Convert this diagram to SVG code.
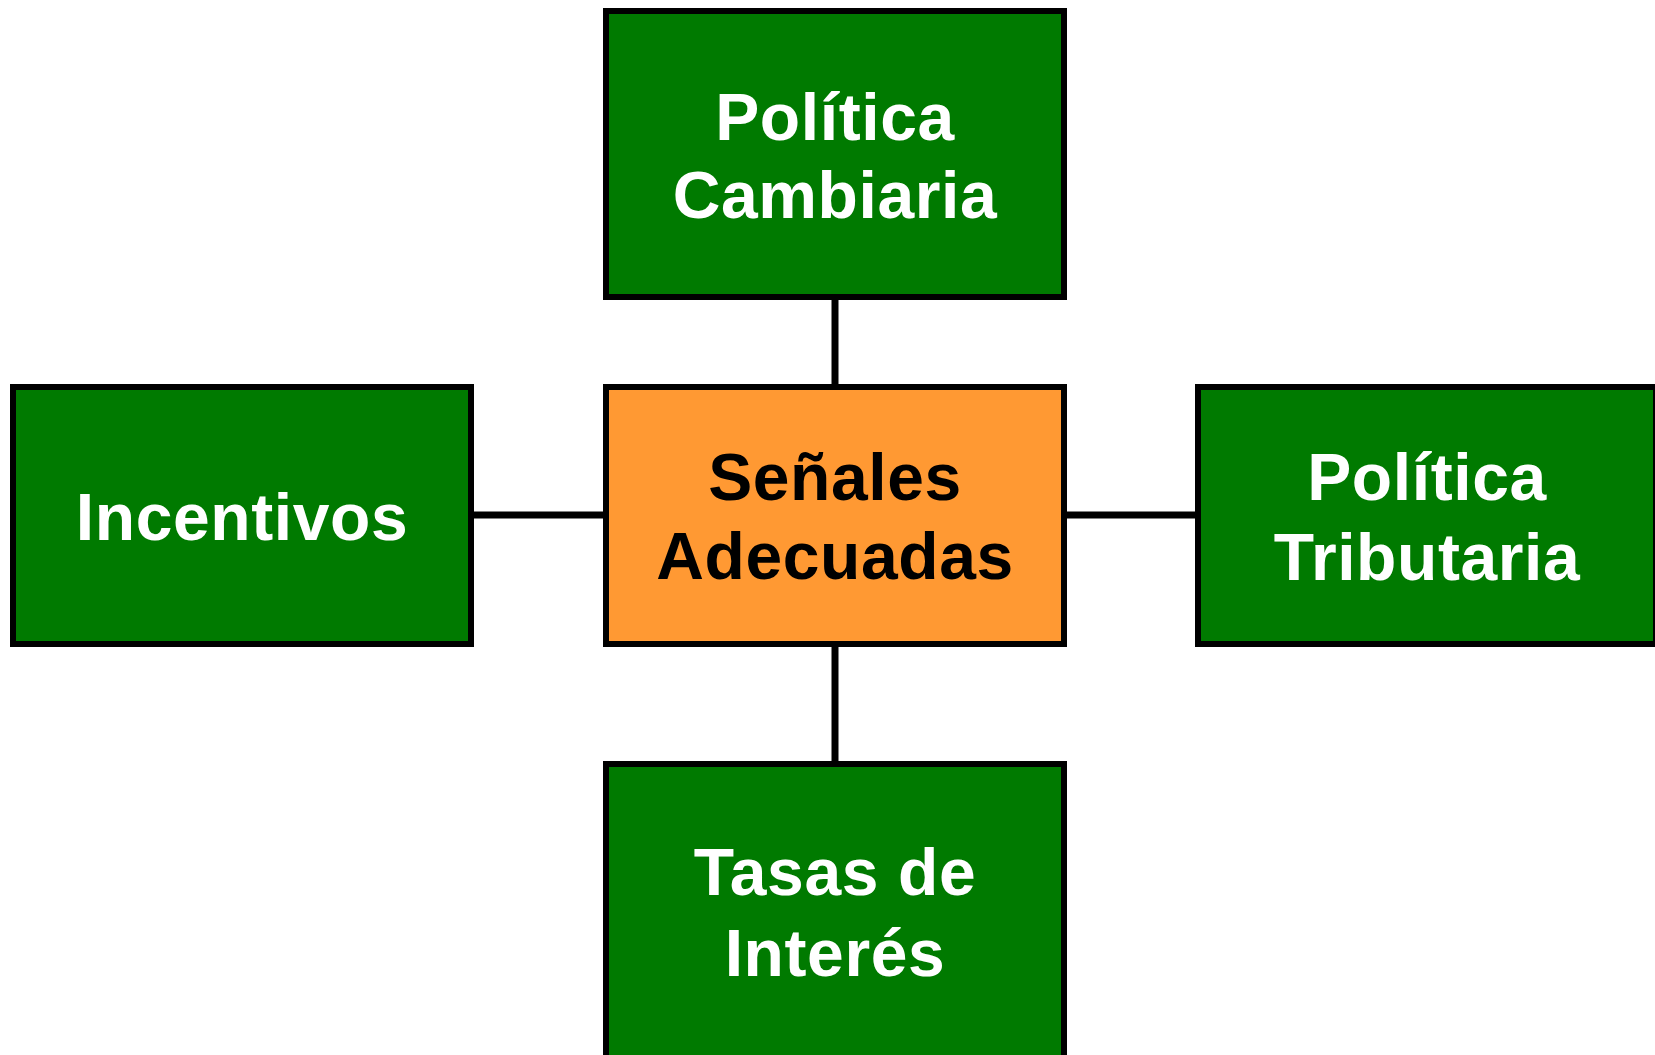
<svg xmlns="http://www.w3.org/2000/svg" width="1655" height="1055" viewBox="0 0 1655 1055">
<style>
.box{stroke:#000;stroke-width:6}
.green{fill:#007A00}
.orange{fill:#FF9933}
.lbl{font-family:"Liberation Sans",Arial,sans-serif;font-weight:bold;font-size:66px;letter-spacing:0.6px;text-anchor:middle}
.w{fill:#fff}
.k{fill:#000}
.conn{stroke:#000;stroke-width:7;fill:none}
</style>
<rect width="1655" height="1055" fill="#fff"/>
<g id="connectors">
<line class="conn" x1="835" y1="297" x2="835" y2="387"/>
<line class="conn" x1="835" y1="644" x2="835" y2="764"/>
<line class="conn" x1="471" y1="515" x2="606" y2="515"/>
<line class="conn" x1="1064" y1="515" x2="1198" y2="515"/>
</g>
<g id="politica-cambiaria">
<rect class="box green" x="606" y="11" width="458" height="286"/>
<text class="lbl w" x="835" y="140">Política</text>
<text class="lbl w" x="835" y="218">Cambiaria</text>
</g>
<g id="incentivos">
<rect class="box green" x="13" y="387" width="458" height="257"/>
<text class="lbl w" x="242" y="540">Incentivos</text>
</g>
<g id="senales-adecuadas">
<rect class="box orange" x="606" y="387" width="458" height="257"/>
<text class="lbl k" x="835" y="500">Señales</text>
<text class="lbl k" x="835" y="579">Adecuadas</text>
</g>
<g id="politica-tributaria">
<rect class="box green" x="1198" y="387" width="458" height="257"/>
<text class="lbl w" x="1427" y="500">Política</text>
<text class="lbl w" x="1427" y="580">Tributaria</text>
</g>
<g id="tasas-de-interes">
<rect class="box green" x="606" y="764" width="458" height="300"/>
<text class="lbl w" x="835" y="895">Tasas de</text>
<text class="lbl w" x="835" y="976">Interés</text>
</g>
</svg>
